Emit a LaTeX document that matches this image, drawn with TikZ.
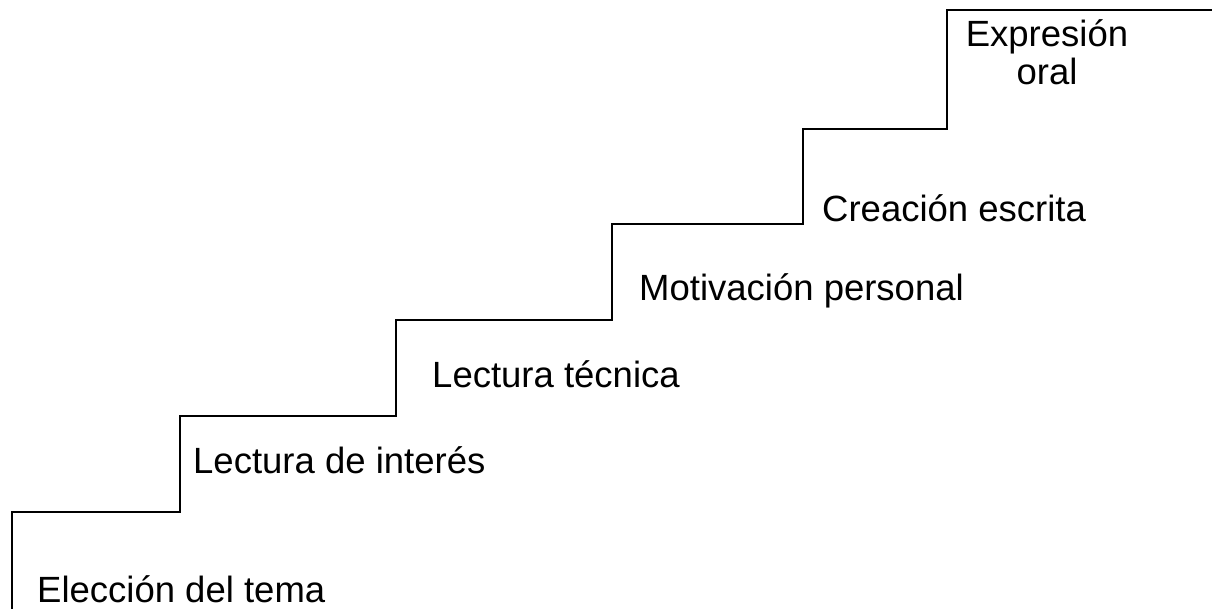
\documentclass[tikz,border=0pt]{standalone}
\usepackage{fontspec}
\setmainfont{Liberation Sans}
\usetikzlibrary{positioning}

\begin{document}
\begin{tikzpicture}[
	x=1pt, y=-1pt,
	escalera/.style={line width=1.3pt, draw=black},
	peldano/.style={anchor=base west, inner sep=0pt, font=\fontsize{36.5}{38}\selectfont}
	]
	\useasboundingbox (0,0) rectangle (1212,609);

		\node (eleccion) [peldano] at (37,602) {Elección del tema};
		\node (interes) [peldano] at (193,473) {Lectura de interés};
		\node (tecnica) [peldano] at (432,387) {Lectura técnica};
		\node (motivacion) [peldano] at (639,301) {Motivación personal};
		\node (creacion) [peldano] at (822,222) {Creación escrita};
		\node (expresion) [peldano, anchor=base, align=center] at (1047,85) {Expresión\\oral};

	\draw [escalera] (12,609) |- (180,512) |- (396,416) |- (612,320) |- (803,224) |- (947,129) |- (1212,10);

\end{tikzpicture}
\end{document}
